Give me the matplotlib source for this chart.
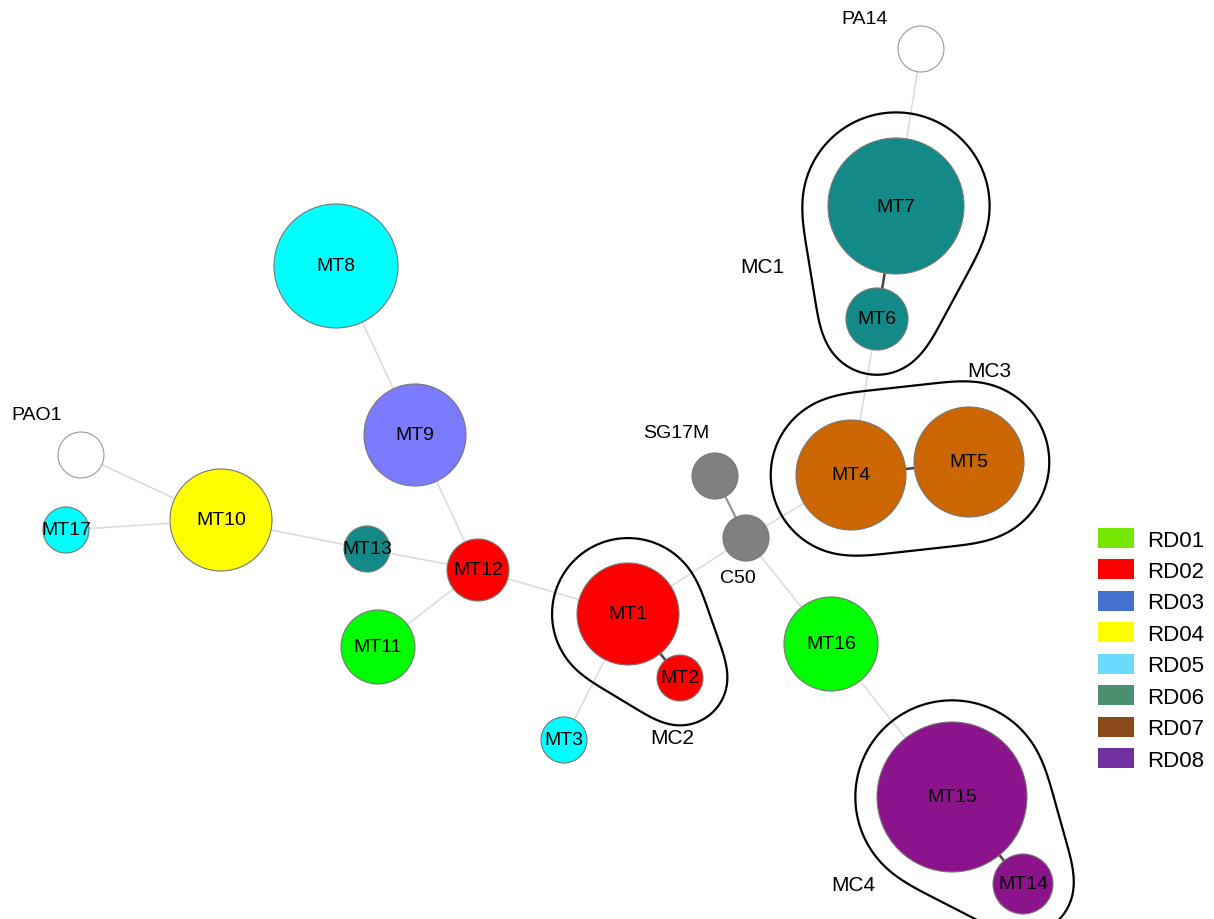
import numpy as np
import matplotlib.pyplot as plt
from matplotlib.patches import Circle, Patch, Polygon

plt.rcParams['font.family'] = ['Liberation Sans', 'DejaVu Sans']

# node layout (pixel space of the canvas) and node sizes
names = ['PA14', 'MT7', 'MT6', 'MT4', 'MT5', 'SG17M', 'C50', 'MT1', 'MT2', 'MT3',
         'MT16', 'MT15', 'MT14', 'MT12', 'MT13', 'MT11', 'MT9', 'MT8', 'MT10',
         'MT17', 'PAO1']
node_x = [921, 896, 877, 851, 969, 715, 746, 628, 680, 564,
          831, 952, 1023, 478, 367, 378, 415, 336, 221, 66, 81]
node_y = [50, 207, 320, 476, 463, 477, 539, 615, 679, 741,
          645, 798, 885, 571, 550, 648, 436, 267, 521, 531, 456]
node_r = [23, 68, 31, 55, 55, 23, 23, 51, 23, 23,
          47, 75, 30, 31, 23, 37, 51, 62, 51, 23, 23]
node_color = ['white', '#138a88', '#138a88', '#cc6600', '#cc6600', '#808080', '#808080',
              '#ff0000', '#ff0000', '#00ffff', '#00ff00', '#8b138b', '#8b138b',
              '#ff0000', '#138a88', '#00ff00', '#7b7bff', '#00ffff', '#ffff00',
              '#00ffff', 'white']
# reference strains get their name outside the circle
outside = {'PA14': (865, 20), 'PAO1': (37, 416), 'SG17M': (676, 434), 'C50': (738, 579)}

edges = [('PA14', 'MT7'), ('MT6', 'MT4'), ('MT4', 'C50'), ('C50', 'MT1'),
         ('C50', 'MT16'), ('MT16', 'MT15'), ('MT1', 'MT3'), ('MT1', 'MT12'),
         ('MT12', 'MT9'), ('MT9', 'MT8'), ('MT12', 'MT13'), ('MT12', 'MT11'),
         ('MT13', 'MT10'), ('MT10', 'MT17'), ('MT10', 'PAO1')]
strong_edges = [('MT7', 'MT6'), ('MT4', 'MT5'), ('MT1', 'MT2'), ('MT15', 'MT14')]
grey_edges = [('SG17M', 'C50')]

clusters = ['MC1', 'MC2', 'MC3', 'MC4']
cluster_members = [['MT7', 'MT6'], ['MT1', 'MT2'], ['MT4', 'MT5'], ['MT15', 'MT14']]
cluster_pad = [27, 26, 27, 23]
cluster_label_pos = [(762, 268), (672, 739), (989, 372), (853, 886)]

legend_labels = ['RD01', 'RD02', 'RD03', 'RD04', 'RD05', 'RD06', 'RD07', 'RD08']
legend_colors = ['#76e600', '#ff0000', '#4470d0', '#ffff00', '#6cd9ff',
                 '#4a9070', '#8b4a1a', '#7030a0']

idx = {n: i for i, n in enumerate(names)}


def hull(points):
    # monotone chain convex hull
    pts = sorted(map(tuple, points))
    def cross(o, a, b):
        return (a[0] - o[0]) * (b[1] - o[1]) - (a[1] - o[1]) * (b[0] - o[0])
    lower, upper = [], []
    for p in pts:
        while len(lower) >= 2 and cross(lower[-2], lower[-1], p) <= 0:
            lower.pop()
        lower.append(p)
    for p in reversed(pts):
        while len(upper) >= 2 and cross(upper[-2], upper[-1], p) <= 0:
            upper.pop()
        upper.append(p)
    return np.array(lower[:-1] + upper[:-1])


def blob(members, pad=27):
    t = np.linspace(0, 2 * np.pi, 90, endpoint=False)
    pts = []
    for m in members:
        i = idx[m]
        r = node_r[i] + pad
        pts.append(np.c_[node_x[i] + r * np.cos(t), node_y[i] + r * np.sin(t)])
    h = hull(np.vstack(pts))
    # resample evenly then smooth around the loop
    closed = np.vstack([h, h[:1]])
    seg = np.hypot(*np.diff(closed, axis=0).T)
    s = np.r_[0, np.cumsum(seg)]
    u = np.linspace(0, s[-1], 400, endpoint=False)
    xs = np.interp(u, s, closed[:, 0])
    ys = np.interp(u, s, closed[:, 1])
    k = 31
    w = np.ones(k) / k
    xs = np.convolve(np.r_[xs[-k:], xs, xs[:k]], w, 'same')[k:-k]
    ys = np.convolve(np.r_[ys[-k:], ys, ys[:k]], w, 'same')[k:-k]
    return np.c_[xs, ys]


fig = plt.figure(figsize=(12.14, 9.2), dpi=100)
ax = fig.add_axes([0, 0, 1, 1])
ax.set_xlim(0, 1214)
ax.set_ylim(920, 0)
ax.set_aspect('equal')
ax.axis('off')

for group, col, lw in [(edges, '#dcdcdc', 1.2), (grey_edges, '#999999', 1.6),
                       (strong_edges, '#444444', 1.8)]:
    for a, b in group:
        ia, ib = idx[a], idx[b]
        ax.plot([node_x[ia], node_x[ib]], [node_y[ia], node_y[ib]],
                color=col, lw=lw, zorder=1)

for i, n in enumerate(names):
    ec = '#999999' if node_color[i] == 'white' else '#777777'
    ax.add_patch(Circle((node_x[i], node_y[i]), node_r[i], facecolor=node_color[i],
                        edgecolor=ec, lw=0.8, zorder=2))
    if n in outside:
        ax.text(*outside[n], n, fontsize=14, ha='center', va='center', zorder=3)
    else:
        ax.text(node_x[i], node_y[i], n, fontsize=14, ha='center', va='center', zorder=3)

for name, members, pad, pos in zip(clusters, cluster_members, cluster_pad, cluster_label_pos):
    ax.add_patch(Polygon(blob(members, pad), closed=True, fill=False,
                         edgecolor='black', lw=1.6, zorder=1.5))
    ax.text(*pos, name, fontsize=15, ha='center', va='center')

handles = [Patch(facecolor=c, edgecolor='none', label=l)
           for l, c in zip(legend_labels, legend_colors)]
ax.legend(handles=handles, loc='upper left', bbox_to_anchor=(1098 / 1214, 1 - 529 / 920),
          frameon=False, fontsize=16, borderpad=0, borderaxespad=0,
          handlelength=1.6, handleheight=1.0, handletextpad=0.6, labelspacing=0.40)

fig.savefig('out.png', dpi=100)
